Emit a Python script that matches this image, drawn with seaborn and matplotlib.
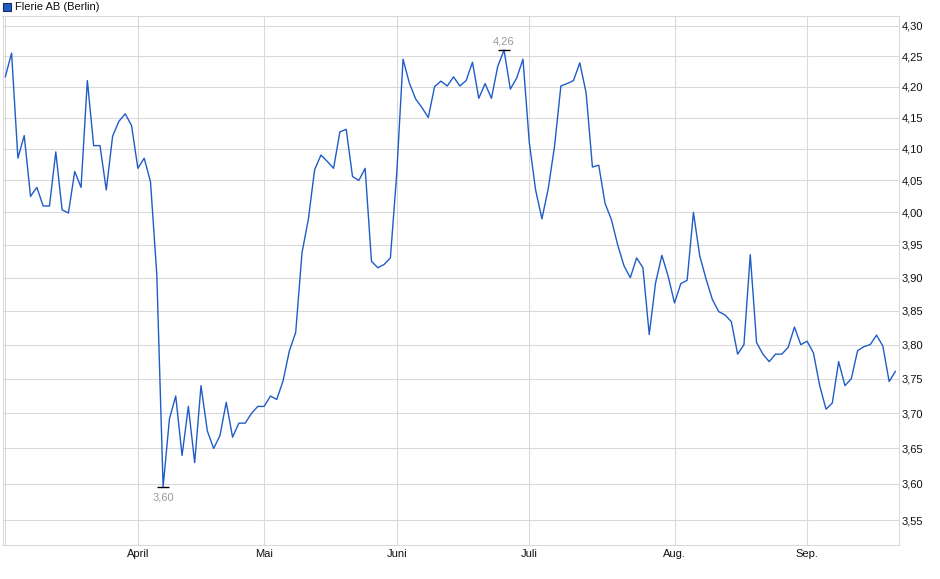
import numpy as np
import pandas as pd
import seaborn as sns
import matplotlib.pyplot as plt
from matplotlib.patches import Rectangle
from matplotlib.ticker import FixedLocator, NullLocator

# trading days at Berlin, Mar 3 - Sep 19 2025
holidays = ["2025-04-18", "2025-04-21", "2025-05-01"]
month_labels = ["April", "Mai", "Juni", "Juli", "Aug.", "Sep."]
y_ticks = [3.55, 3.60, 3.65, 3.70, 3.75, 3.80, 3.85, 3.90, 3.95, 4.00,
           4.05, 4.10, 4.15, 4.20, 4.25, 4.30]

prices = [
    4.216, 4.255, 4.085, 4.121, 4.025, 4.039, 4.010, 4.010, 4.095, 4.004,
    3.999, 4.064, 4.039, 4.210, 4.105, 4.105, 4.035, 4.120, 4.144, 4.156,
    4.137, 4.069, 4.085, 4.048, 3.905, 3.596, 3.692, 3.725, 3.640, 3.710,
    3.630, 3.740, 3.675, 3.650, 3.668, 3.716, 3.666, 3.686, 3.686, 3.700,
    3.710, 3.710, 3.725, 3.720, 3.747, 3.791, 3.818, 3.938, 3.989, 4.067,
    4.090, 4.080, 4.069, 4.127, 4.131, 4.056, 4.050, 4.069, 3.925, 3.915,
    3.920, 3.930, 4.060, 4.245, 4.206, 4.180, 4.166, 4.150, 4.200, 4.209,
    4.201, 4.216, 4.201, 4.210, 4.240, 4.181, 4.205, 4.181, 4.233, 4.260,
    4.196, 4.214, 4.245, 4.110, 4.035, 3.990, 4.037, 4.104, 4.201, 4.205,
    4.210, 4.239, 4.190, 4.071, 4.074, 4.014, 3.989, 3.950, 3.918, 3.900,
    3.930, 3.915, 3.815, 3.892, 3.934, 3.902, 3.862, 3.891, 3.896, 4.000,
    3.933, 3.898, 3.867, 3.849, 3.844, 3.834, 3.786, 3.800, 3.935, 3.803,
    3.786, 3.775, 3.786, 3.786, 3.796, 3.826, 3.800, 3.805, 3.788, 3.740,
    3.706, 3.715, 3.775, 3.740, 3.750, 3.791, 3.797, 3.800, 3.814, 3.798,
    3.746, 3.761,
]

dates = pd.bdate_range("2025-03-03", "2025-09-19")
dates = dates[~dates.isin(pd.to_datetime(holidays))]
df = pd.DataFrame({"date": dates, "price": prices})
df["i"] = np.arange(len(df))

sns.set_style("white")
plt.rcParams["font.family"] = ["Liberation Sans", "DejaVu Sans"]

W, H = 940, 579
fig = plt.figure(figsize=(W / 100, H / 100), dpi=100)
l, r, t, b = 2.5, 898.5, 16, 545
ax = fig.add_axes([l / W, 1 - b / H, (r - l) / W, (b - t) / H])

grid = "#d9d9d9"
line_col = "#1f5cc8"
txt = "#111111"
fs = 8

sns.lineplot(data=df, x="i", y="price", ax=ax, color=line_col, lw=1.0)

ax.set_yscale("log")
ax.set_ylim(3.5158, 4.3167)
ax.set_xlim(-0.44, len(df) - 1 + 0.48)

ax.yaxis.set_major_locator(FixedLocator(y_ticks))
ax.yaxis.set_minor_locator(NullLocator())
ax.set_yticklabels([f"{v:.2f}".replace(".", ",") for v in y_ticks])
ax.yaxis.tick_right()

# first trading day of each month
firsts = df.groupby(df["date"].dt.to_period("M"))["i"].min().tolist()
ax.set_xticks(firsts)
ax.set_xticklabels([""] + month_labels)
ax.xaxis.set_minor_locator(NullLocator())

ax.tick_params(axis="y", length=0, labelsize=fs, labelcolor=txt, pad=2.3)
ax.tick_params(axis="x", length=1.5, width=0.75, color=grid, labelsize=fs,
               labelcolor=txt, pad=1.5)
ax.grid(True, color=grid, lw=0.75)
for s in ax.spines.values():
    s.set_color(grid)
    s.set_linewidth(0.75)
ax.set_xlabel("")
ax.set_ylabel("")

# min / max markers
for idx, off, va in [(df["price"].idxmin(), -4, "top"), (df["price"].idxmax(), 2.5, "bottom")]:
    v = df.loc[idx, "price"]
    ax.plot([idx], [v], marker="_", ms=9, mew=1.0, color="black")
    ax.annotate(f"{v:.2f}".replace(".", ","), (idx, v), xytext=(0, off),
                textcoords="offset points", ha="center", va=va,
                fontsize=fs, color="#9a9a9a")

# legend
fig.patches.append(Rectangle((2.5 / W, 1 - 11 / H), 8 / W, 8 / H,
                             transform=fig.transFigure, facecolor=line_col,
                             edgecolor="#1a2a60", lw=0.8))
fig.text(15 / W, 1 - 6.5 / H, "Flerie AB (Berlin)", fontsize=fs,
         color=txt, va="center", ha="left")

fig.savefig("out.png", dpi=100)
